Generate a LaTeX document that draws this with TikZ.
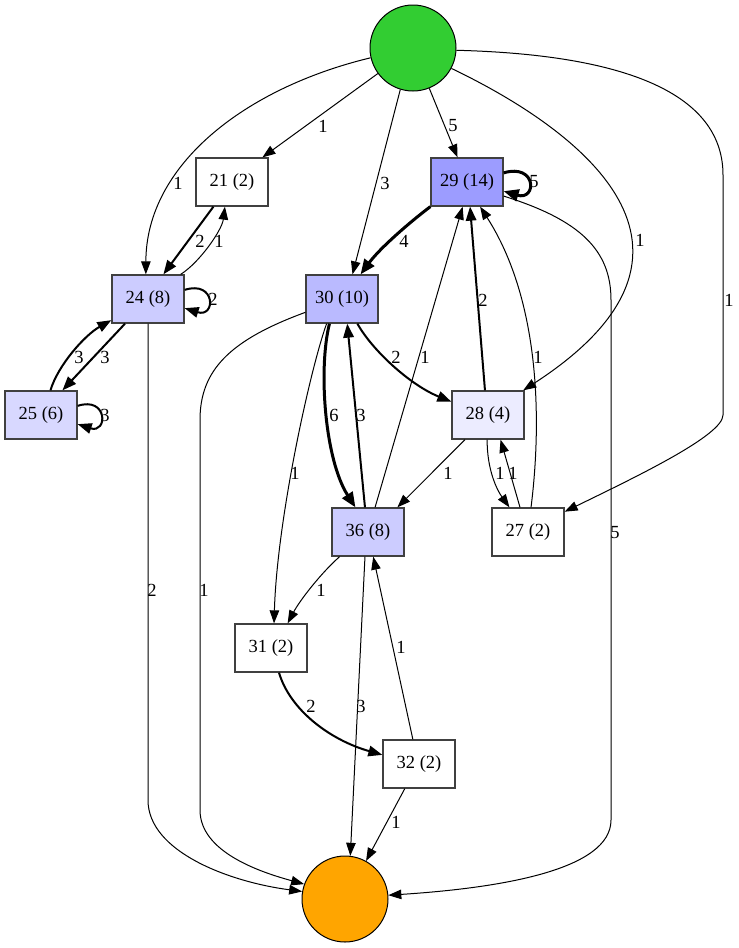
\documentclass[tikz,border=0pt]{standalone}
\usepackage{fontspec}
\setmainfont{Liberation Serif}
\usetikzlibrary{arrows.meta}
\definecolor{boxline}{RGB}{64,64,64}
\definecolor{startgreen}{RGB}{50,205,50}
\definecolor{endorange}{RGB}{255,165,0}
\definecolor{c29}{RGB}{156,156,255}
\definecolor{c30}{RGB}{186,186,255}
\definecolor{c24}{RGB}{204,204,255}
\definecolor{c36}{RGB}{204,204,255}
\definecolor{c25}{RGB}{216,216,255}
\definecolor{c28}{RGB}{236,236,255}
\begin{document}
\begin{tikzpicture}[x=1pt,y=-1pt,
  box/.style={draw=boxline, line width=1.3pt, minimum width=72pt, minimum height=48pt,
    inner sep=0pt, font=\fontsize{18.5}{21}\selectfont},
  term/.style={circle, draw=black, line width=1pt, minimum size=86pt, inner sep=0pt},
  edge/.style={-{Triangle[length=13pt,width=9.5pt]}, line width=1pt},
  medge/.style={-{Triangle[length=14pt,width=10.5pt]}, line width=2pt},
  tedge/.style={-{Triangle[length=15pt,width=12pt]}, line width=3pt},
  lbl/.style={inner sep=0pt, font=\fontsize{18.5}{21}\selectfont}]
\useasboundingbox (0,0) rectangle (739,948);

% start and end
\node[term, fill=startgreen] (st) at (413,48) {};
\node[term, fill=endorange] (en) at (345,899) {};

% activity boxes
\node[box, fill=white] (n21) at (232,182) {21 (2)};
\node[box, fill=c29]   (n29) at (467,182) {29 (14)};
\node[box, fill=c24]   (n24) at (148,299) {24 (8)};
\node[box, fill=c30]   (n30) at (342,299) {30 (10)};
\node[box, fill=c25]   (n25) at (41,415)  {25 (6)};
\node[box, fill=c28]   (n28) at (488,415) {28 (4)};
\node[box, fill=c36]   (n36) at (368,532) {36 (8)};
\node[box, fill=white] (n27) at (528,532) {27 (2)};
\node[box, fill=white] (n31) at (271,648) {31 (2)};
\node[box, fill=white] (n32) at (419,764) {32 (2)};

% edges leaving the start
\draw[edge] (st) -- (n21.39);
\draw[edge] (st.193) .. controls (245,88) and (146,165) .. (n24.95);
\draw[edge] (st.253) -- (n30.67);
\draw[edge] (st.292) -- (n29.111);
\draw[edge] (st.332) .. controls (580,130) and (740,250) .. (n28.35);
\draw[edge] (st.357) .. controls (640,55) and (723,100) .. (723,175) -- (723,415)
  .. controls (723,435) and (640,475) .. (n27.29);

% upper left cluster
\draw[medge] (n21.233) -- (n24.58);
\draw[edge] (n24.37) .. controls (200,262) and (222,230) .. (n21.254);
\draw[medge] (n24.14) .. controls (216,280) and (216,318) .. (n24.346);
\draw[medge] (n24.227) -- (n25.49);
\draw[medge] (n25.69) .. controls (58,365) and (85,335) .. (n24.210);
\draw[medge] (n25.14) .. controls (108,396) and (108,434) .. (n25.346);
\draw[edge] (n24.south) -- (148,800) .. controls (148,852) and (230,882) .. (en.170);

% around 29 and 30
\draw[tedge] (n29.14) .. controls (537,163) and (537,201) .. (n29.346);
\draw[tedge] (n29.south west) .. controls (410,222) and (380,248) .. (n30.53);
\draw[edge] (n29.339) .. controls (580,220) and (611,250) .. (611,300) -- (611,820)
  .. controls (611,870) and (500,888) .. (en.5);
\draw[edge] (n30.200) .. controls (230,340) and (200,370) .. (200,420) -- (200,810)
  .. controls (200,852) and (260,872) .. (en.160);
\draw[medge] (n30.302) .. controls (372,350) and (410,385) .. (n28.160);
\draw[tedge] (n30.243) .. controls (318,370) and (325,460) .. (n36.117);
\draw[medge] (n36.97) -- (n30.282);
\draw[edge] (n30.238) .. controls (310,370) and (277,520) .. (n31.83);

% middle right
\draw[edge] (n36.74) -- (n29.260);
\draw[medge] (n28.97) -- (n29.277);
\draw[edge] (n27.83) .. controls (542,420) and (540,300) .. (n29.298);
\draw[edge] (n28.227) -- (n36.40);
\draw[edge] (n28.268) .. controls (487,470) and (497,490) .. (n27.127);
\draw[edge] (n27.108) -- (n28.297);

% lower part
\draw[edge] (n36.221) .. controls (322,572) and (300,600) .. (n31.56);
\draw[edge] (n36.263) -- (en.83);
\draw[medge] (n31.288) .. controls (290,710) and (330,740) .. (n32.166);
\draw[edge] (n32.104) -- (n36.282);
\draw[edge] (n32.240) -- (en.61);

% edge labels
\node[lbl] (a1)  at (323,126) {1};
\node[lbl] (a2)  at (178,183) {1};
\node[lbl] (a3)  at (385,183) {3};
\node[lbl] (a4)  at (453,126) {5};
\node[lbl] (a5)  at (640,240) {1};
\node[lbl] (a6)  at (729,300) {1};
\node[lbl] (a7)  at (200,241) {2};
\node[lbl] (a8)  at (219,241) {1};
\node[lbl] (a9)  at (213,299) {2};
\node[lbl] (a10) at (105,357) {3};
\node[lbl] (a11) at (79,357)  {3};
\node[lbl] (a12) at (105,415) {3};
\node[lbl] (a13) at (152,590) {2};
\node[lbl] (a14) at (534,182) {5};
\node[lbl] (a15) at (404,241) {4};
\node[lbl] (a16) at (615,533) {5};
\node[lbl] (a17) at (204,590) {1};
\node[lbl] (a18) at (396,357) {2};
\node[lbl] (a19) at (334,415) {6};
\node[lbl] (a20) at (361,415) {3};
\node[lbl] (a21) at (295,473) {1};
\node[lbl] (a22) at (425,357) {1};
\node[lbl] (a23) at (483,300) {2};
\node[lbl] (a24) at (538,357) {1};
\node[lbl] (a25) at (448,473) {1};
\node[lbl] (a26) at (500,473) {1};
\node[lbl] (a27) at (513,473) {1};
\node[lbl] (a28) at (321,590) {1};
\node[lbl] (a29) at (361,706) {3};
\node[lbl] (a30) at (311,706) {2};
\node[lbl] (a31) at (401,647) {1};
\node[lbl] (a32) at (396,822) {1};
\end{tikzpicture}
\end{document}
